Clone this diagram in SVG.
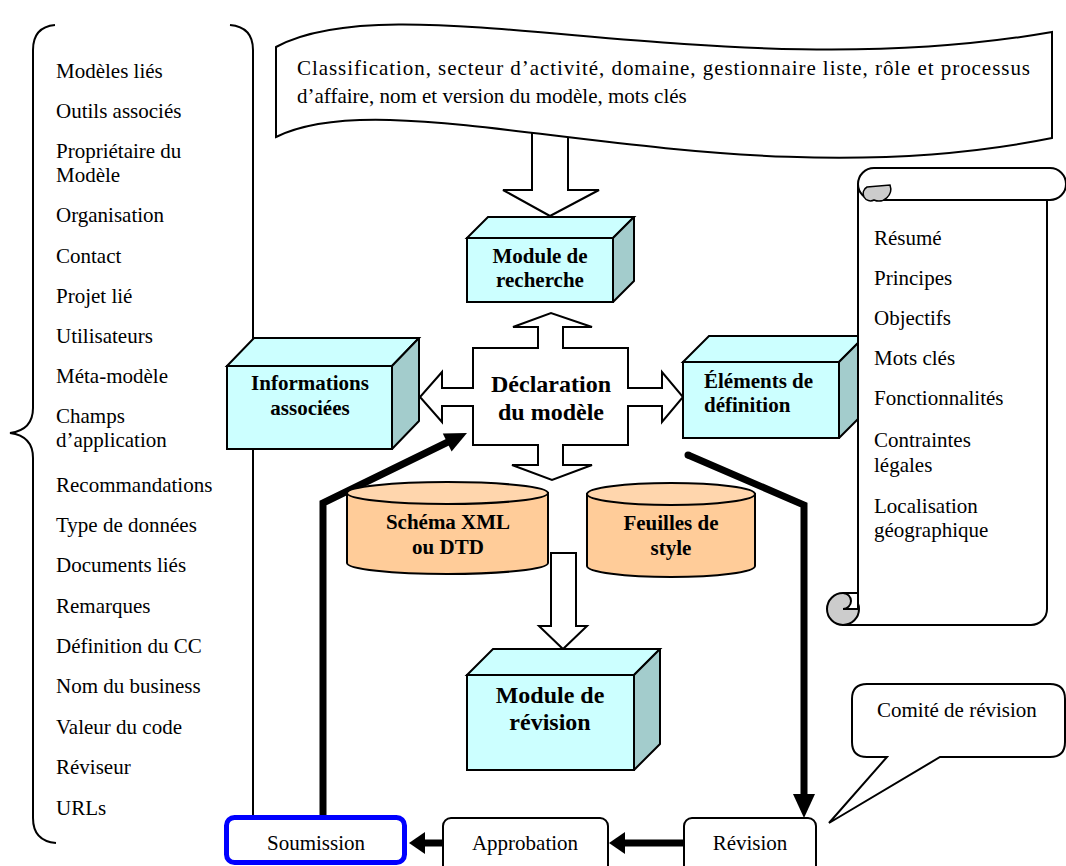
<svg xmlns="http://www.w3.org/2000/svg" width="1066" height="866" viewBox="0 0 1066 866">
<defs>
<style>
.t{font-family:"Liberation Serif","Times New Roman",serif;font-size:21px;fill:#000}
.b{font-family:"Liberation Serif","Times New Roman",serif;font-size:21px;font-weight:bold;fill:#000}
.bl{font-family:"Liberation Serif","Times New Roman",serif;font-size:24px;font-weight:bold;fill:#000}
.ln{fill:none;stroke:#000;stroke-width:2}
.front{fill:#ccffff;stroke:#000;stroke-width:2}
.side{fill:#a3cccc;stroke:#000;stroke-width:2;stroke-linejoin:round}
.cyl{fill:#ffcc99;stroke:#000;stroke-width:2}
.cyltop{fill:#ffd6ad;stroke:#000;stroke-width:2}
.hollow{fill:#fff;stroke:#000;stroke-width:2;stroke-linejoin:miter}
.thick{fill:none;stroke:#000;stroke-width:7}
.box{fill:#fff;stroke:#000;stroke-width:2}
</style>
</defs>
<rect width="1066" height="866" fill="#fff"/>

<g id="left-brace">
<path class="ln" d="M55,25 Q33,27 33,50 L33,408 Q33,430 10,433 Q33,436 33,458 L33,818 Q33,841 56,843"/>
<path class="ln" d="M230,25 Q253,27 253,50 L253,815"/>
<text class="t" x="56" y="78">Modèles liés</text>
<text class="t" x="56" y="118">Outils associés</text>
<text class="t" x="56" y="158">Propriétaire du</text>
<text class="t" x="56" y="182">Modèle</text>
<text class="t" x="56" y="222">Organisation</text>
<text class="t" x="56" y="263">Contact</text>
<text class="t" x="56" y="303">Projet lié</text>
<text class="t" x="56" y="343">Utilisateurs</text>
<text class="t" x="56" y="383">Méta-modèle</text>
<text class="t" x="56" y="423">Champs</text>
<text class="t" x="56" y="447">d’application</text>
<text class="t" x="56" y="492">Recommandations</text>
<text class="t" x="56" y="532">Type de données</text>
<text class="t" x="56" y="572">Documents liés</text>
<text class="t" x="56" y="613">Remarques</text>
<text class="t" x="56" y="653">Définition du CC</text>
<text class="t" x="56" y="693">Nom du business</text>
<text class="t" x="56" y="734">Valeur du code</text>
<text class="t" x="56" y="774">Réviseur</text>
<text class="t" x="56" y="815">URLs</text>
</g>

<g id="connectors">
<path class="hollow" d="M532,110 L532,190 L503,190 L550,216 L599,190 L568,190 L568,110 Z"/>
<path class="hollow" d="M551,553 L551,626 L539,626 L563,649 L587,626 L576,626 L576,553 Z"/>
<polyline class="thick" points="323,815 323,503 448,442" stroke-linejoin="miter"/>
<polygon points="467,433 451.6,451.6 442.8,433.6" fill="#000"/>
<polyline class="thick" points="688,455 804,505 804,796" stroke-linejoin="miter"/>
<circle cx="688" cy="455" r="3.5" fill="#000"/>
<polygon points="793,794 815,794 804,818" fill="#000"/>
<line class="thick" x1="684" y1="843" x2="623" y2="843"/>
<polygon points="625,832 625,854 609,843" fill="#000"/>
<line class="thick" x1="443" y1="843" x2="423" y2="843"/>
<polygon points="425,832 425,854 409,843" fill="#000"/>
</g>

<g id="banner">
<path class="box" d="M276,47 C400,-20 720,90 1052,32 L1052,138 C720,205 400,75 276,137 Z"/>
<text class="t" x="297" y="75" textLength="733" lengthAdjust="spacing">Classification, secteur d’activité, domaine, gestionnaire liste, rôle et processus</text>
<text class="t" x="297" y="103">d’affaire, nom et version du modèle, mots clés</text>
</g>

<g id="module-recherche">
<rect class="front" x="467" y="238" width="146" height="64"/>
<polygon class="front" points="467,238 488,217 634,217 613,238"/>
<polygon class="side" points="613,238 634,217 634,281 613,302"/>
<text class="b" x="540" y="263" text-anchor="middle">Module de</text>
<text class="b" x="540" y="287" text-anchor="middle">recherche</text>
</g>

<g id="declaration">
<path class="hollow" d="M473,348 L538,348 L538,327 L513,327 L551,313 L592,327 L563,327 L563,348 L628,348 L628,388 L662,388 L662,372 L683,397 L662,422 L662,406 L628,406 L628,445 L563,445 L563,465 L592,465 L552,480 L512,465 L538,465 L538,445 L473,445 L473,406 L442,406 L442,422 L420,397 L442,372 L442,388 L473,388 Z"/>
<text class="bl" x="551" y="392" text-anchor="middle">Déclaration</text>
<text class="bl" x="551" y="420" text-anchor="middle">du modèle</text>
</g>

<g id="informations">
<rect class="front" x="227" y="366" width="165" height="83"/>
<polygon class="front" points="227,366 254,338 419,338 392,366"/>
<polygon class="side" points="392,366 419,338 419,421 392,449"/>
<text class="b" x="310" y="390" text-anchor="middle">Informations</text>
<text class="b" x="310" y="415" text-anchor="middle">associées</text>
</g>

<g id="elements">
<rect class="front" x="683" y="362" width="156" height="76"/>
<polygon class="front" points="683,362 709,336 865,336 839,362"/>
<polygon class="side" points="839,362 865,336 865,412 839,438"/>
<text class="b" x="704" y="388">Éléments de</text>
<text class="b" x="704" y="412">définition</text>
</g>

<g id="schema">
<path class="cyl" d="M347,493 L347,563 A100.5,11 0 0 0 548,563 L548,493 Z"/>
<ellipse class="cyltop" cx="447.5" cy="493" rx="100.5" ry="11"/>
<text class="b" x="448" y="529" text-anchor="middle">Schéma XML</text>
<text class="b" x="448" y="554" text-anchor="middle">ou DTD</text>
</g>

<g id="feuilles">
<path class="cyl" d="M587,494 L587,566 A84,11 0 0 0 755,566 L755,494 Z"/>
<ellipse class="cyltop" cx="671" cy="494" rx="84" ry="11"/>
<text class="b" x="671" y="530" text-anchor="middle">Feuilles de</text>
<text class="b" x="671" y="555" text-anchor="middle">style</text>
</g>

<g id="module-revision">
<rect class="front" x="467" y="675" width="167" height="95"/>
<polygon class="front" points="467,675 493,649 660,649 634,675"/>
<polygon class="side" points="634,675 660,649 660,744 634,770"/>
<text class="bl" x="550" y="703" text-anchor="middle">Module de</text>
<text class="bl" x="550" y="730" text-anchor="middle">révision</text>
</g>

<g id="scroll">
<path class="box" d="M858,184 L858,609 L843,609 L843,625 L1031,625 A16,16 0 0 0 1047,609 L1047,200"/>
<circle cx="843" cy="609" r="16" fill="#cccccc" stroke="#000" stroke-width="2"/>
<path d="M843,593 L858,593 L858,609 L843,609 A8,8 0 0 0 843,593 Z" fill="#fff" stroke="#000" stroke-width="2"/>
<path class="box" d="M874,168 L1050,168 A16,16 0 0 1 1050,200 L874,200 A16,16 0 0 1 874,168 Z"/>
<path d="M867,187 L890,185 A12,12 0 0 1 874,200 A7,7 0 0 1 867,187 Z" fill="#cccccc" stroke="#000" stroke-width="1.5"/>
<text class="t" x="874" y="245">Résumé</text>
<text class="t" x="874" y="285">Principes</text>
<text class="t" x="874" y="325">Objectifs</text>
<text class="t" x="874" y="365">Mots clés</text>
<text class="t" x="874" y="405">Fonctionnalités</text>
<text class="t" x="874" y="447">Contraintes</text>
<text class="t" x="874" y="472">légales</text>
<text class="t" x="874" y="513">Localisation</text>
<text class="t" x="874" y="537">géographique</text>
</g>

<g id="comite">
<path class="box" d="M867,684 L1050,684 Q1065,684 1065,699 L1065,742 Q1065,757 1050,757 L940,757 L829,823 L887,757 L867,757 Q852,757 852,742 L852,699 Q852,684 867,684 Z"/>
<text class="t" x="877" y="717">Comité de révision</text>
</g>

<g id="soumission">
<rect x="226.5" y="817.5" width="178" height="45" rx="8" fill="#fff" stroke="#0000ff" stroke-width="5"/>
<text class="t" x="316" y="850" text-anchor="middle">Soumission</text>
</g>
<g id="approbation">
<rect class="box" x="443" y="818" width="165" height="56" rx="8"/>
<text class="t" x="525" y="850" text-anchor="middle">Approbation</text>
</g>
<g id="revision">
<rect class="box" x="684" y="818" width="132" height="56" rx="8"/>
<text class="t" x="750" y="850" text-anchor="middle">Révision</text>
</g>
</svg>
